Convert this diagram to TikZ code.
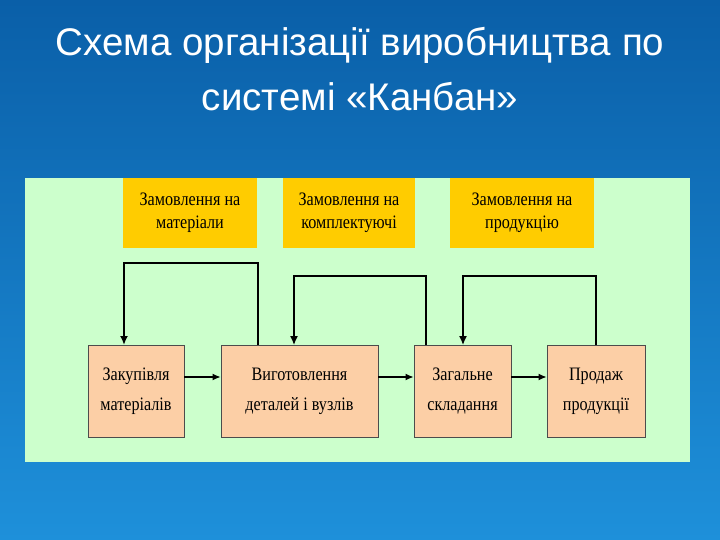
\documentclass[tikz,border=0pt]{standalone}
\usepackage{fontspec}
\usetikzlibrary{arrows.meta}
\setmainfont{Liberation Serif}[FakeStretch=0.85]
\newfontfamily\titlefont{Liberation Sans}
\begin{document}
\begin{tikzpicture}[x=1pt,y=-1pt,
  order/.style={fill=orderfill,inner sep=0pt,align=center,font=\fontsize{19}{23}\selectfont},
  stage/.style={fill=stagefill,draw=black!70,line width=0.8pt,inner sep=0pt,align=center,font=\fontsize{19}{30}\selectfont},
  flow/.style={-{Latex[length=8pt,width=7pt]},line width=1.4pt},
  loop/.style={line width=1.4pt,-{Latex[length=9pt,width=8pt]}}]
\definecolor{orderfill}{HTML}{FFCC00}
\definecolor{stagefill}{HTML}{FCCFA6}
\definecolor{panel}{HTML}{CCFFCC}
\definecolor{bgtop}{HTML}{0A5FA8}
\definecolor{bgbot}{HTML}{1E90DA}
\shade[top color=bgtop,bottom color=bgbot] (0,0) rectangle (720,540);
\useasboundingbox (0,0) rectangle (720,540);
\node[text=white,font=\titlefont\fontsize{38.5}{52}\selectfont,anchor=center] (title) at (360,45) {Схема організації виробництва по};
\node[text=white,font=\titlefont\fontsize{38.5}{52}\selectfont,anchor=center] (title2) at (360,97) {системі «Канбан»};
\fill[panel] (25,178) rectangle (690,462);
\node[order,minimum width=134,minimum height=70] (o1) at (190,213) {Замовлення на\\матеріали};
\node[order,minimum width=132,minimum height=70] (o2) at (349,213) {Замовлення на\\комплектуючі};
\node[order,minimum width=144,minimum height=70] (o3) at (522,213) {Замовлення на\\продукцію};
\node[stage,minimum width=96,minimum height=92] (a) at (136,391) {Закупівля\\матеріалів};
\node[stage,minimum width=157,minimum height=92] (b) at (299.5,391) {Виготовлення\\деталей і вузлів};
\node[stage,minimum width=97,minimum height=92] (c) at (462.5,391) {Загальне\\складання};
\node[stage,minimum width=98,minimum height=92] (d) at (596,391) {Продаж\\продукції};
\draw[flow] (a.east |- 0,377) -- (b.west |- 0,377);
\draw[flow] (b.east |- 0,377) -- (c.west |- 0,377);
\draw[flow] (c.east |- 0,377) -- (d.west |- 0,377);
\draw[line width=2.6pt,-{Latex[length=9pt,width=8pt]}] (258,345) -- (258,263) -- (124,263) -- (124,345);
\draw[loop] (426,345) -- (426,276) -- (294,276) -- (294,345);
\draw[loop] (596,345) -- (596,276) -- (463,276) -- (463,345);
\end{tikzpicture}
\end{document}
